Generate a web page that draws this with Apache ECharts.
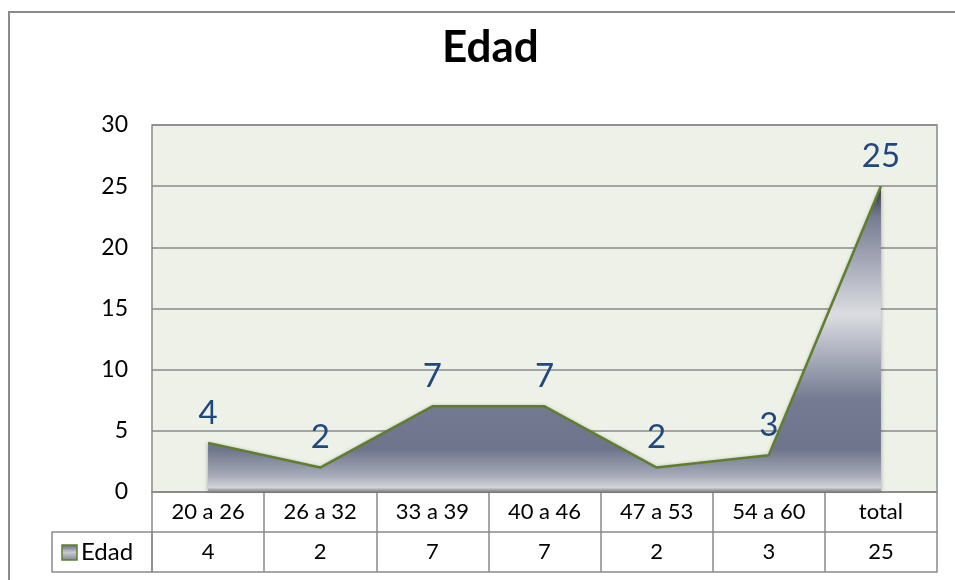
<!DOCTYPE html>
<html>
<head>
<meta charset="utf-8">
<script src="https://cdn.jsdelivr.net/npm/echarts@6/dist/echarts.min.js"></script>
<style>
  html, body { margin: 0; padding: 0; background: #fff; }
  #main { width: 955px; height: 580px; }
</style>
</head>
<body>
<div id="main"></div>
<script>
// datos de la tabla
var categorias = ['20 a 26', '26 a 32', '33 a 39', '40 a 46', '47 a 53', '54 a 60', 'total'];
var edad = [4, 2, 7, 7, 2, 3, 25];
var serieNombre = 'Edad';

var fuente = 'Lato, "Noto Sans", sans-serif';
var gris = '#8a8a8a';

var myChart = echarts.init(document.getElementById('main'));

var option = {
    backgroundColor: '#ffffff',
    title: {
        text: 'Edad',
        left: 437,
        top: 21,
        textStyle: { fontFamily: fuente, fontSize: 44, fontWeight: 'bold', color: '#000' }
    },
    grid: {
        left: 152, top: 125, right: 18, bottom: 88,
        show: true,
        backgroundColor: '#eef1e8',
        borderColor: gris,
        borderWidth: 1.5
    },
    xAxis: [{
        type: 'category',
        data: categorias,
        boundaryGap: true,
        position: 'bottom',
        axisLine: { show: true, lineStyle: { color: gris, width: 1.5 } },
        axisTick: { show: true, interval: 0, length: 80, lineStyle: { color: gris, width: 1.5 } },
        axisLabel: { interval: 0, margin: 9, fontFamily: fuente, fontSize: 22, color: '#000' },
        splitLine: { show: false }
    }, {
        type: 'category',
        data: edad.map(function (v) { return String(v); }),
        position: 'bottom',
        offset: 40,
        axisLine: { show: true, lineStyle: { color: gris, width: 1.5 } },
        axisTick: { show: false },
        axisLabel: { interval: 0, margin: 9, fontFamily: fuente, fontSize: 22, color: '#000' }
    }, {
        type: 'category',
        data: categorias,
        position: 'bottom',
        offset: 80,
        axisLine: { show: true, lineStyle: { color: gris, width: 1.5 } },
        axisTick: { show: false },
        axisLabel: { show: false }
    }],
    yAxis: {
        type: 'value',
        min: 0,
        max: 30,
        interval: 5,
        axisLine: { show: false },
        axisTick: { show: false },
        axisLabel: { margin: 24, fontFamily: fuente, fontSize: 23, color: '#000' },
        splitLine: { lineStyle: { color: gris, width: 1.5 } }
    },
    series: [{
        name: serieNombre,
        type: 'line',
        data: edad,
        symbol: 'circle',
        symbolSize: 1,
        itemStyle: { color: 'rgba(0,0,0,0)' },
        lineStyle: { color: '#5f7f2e', width: 2.5 },
        areaStyle: {
            opacity: 1,
            color: new echarts.graphic.LinearGradient(0, 0, 0, 1, [
                { offset: 0, color: '#2e3038' },
                { offset: 0.1, color: '#767c92' },
                { offset: 0.42, color: '#dcdde2' },
                { offset: 0.7, color: '#737a91' },
                { offset: 0.86, color: '#6e748b' },
                { offset: 0.95, color: '#a9adba' },
                { offset: 0.985, color: '#d4d5da' },
                { offset: 1, color: '#7d7d7d' }
            ]),
            shadowColor: 'rgba(0,0,0,0.35)',
            shadowBlur: 4
        },
        label: {
            show: true,
            position: 'top',
            distance: 13,
            fontFamily: fuente,
            fontSize: 33,
            color: '#1f497d'
        }
    }],
    graphic: [{
        type: 'rect',
        shape: { x: 9, y: 12, width: 960, height: 580 },
        style: { fill: 'none', stroke: gris, lineWidth: 2 },
        silent: true
    }, {
        type: 'rect',
        shape: { x: 52, y: 532, width: 100, height: 40 },
        style: { fill: 'none', stroke: gris, lineWidth: 1.5 }
    }, {
        type: 'rect',
        shape: { x: 62, y: 545, width: 15, height: 15 },
        style: {
            stroke: '#5f7f2e', lineWidth: 1.5,
            fill: new echarts.graphic.LinearGradient(0, 0, 0, 1, [
                { offset: 0, color: '#5c6070' },
                { offset: 0.5, color: '#c8cad2' },
                { offset: 1, color: '#7a8197' }
            ])
        }
    }, {
        type: 'text',
        x: 81, y: 552,
        style: { text: serieNombre, fontFamily: fuente, fontSize: 24, fill: '#000', verticalAlign: 'middle' }
    }]
};

myChart.setOption(option);
</script>
</body>
</html>
